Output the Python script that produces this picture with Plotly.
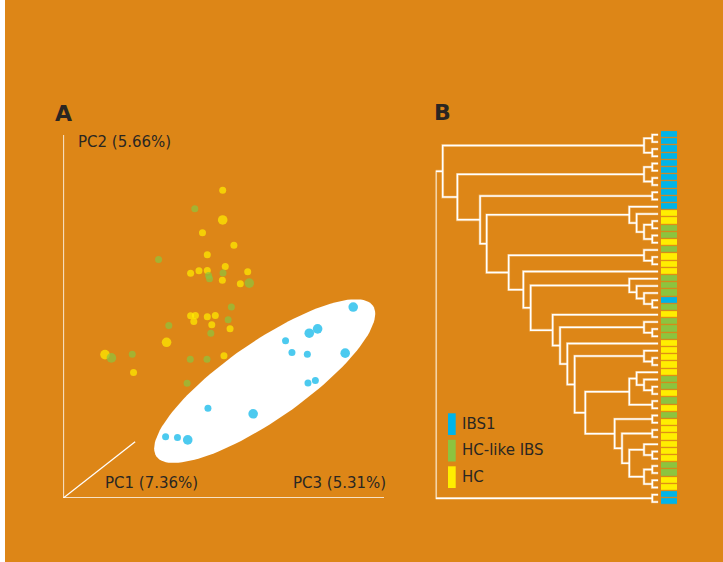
import math
import plotly.graph_objects as go

W, H = 723, 562

# ---------------- colours ----------------
BG = "#DD8617"
COL = {"IBS1": "#00B4E8", "HC-like IBS": "#8CC43F", "HC": "#FFEE00"}
TXT = "#2a2622"

# ---------------- Panel A: PCA scores (projected) ----------------
hc_x = [49.7, 49.7, 43.4, 53.2, 44.9, 50.5, 39.7, 42.3, 44.9, 57.5, 49.6, 55.2,
        39.7, 41.2, 40.7, 44.9, 47.4, 46.3, 52.0, 32.2, 13.0, 21.9, 50.1]
hc_y = [84.8, 76.6, 73.1, 69.6, 67.0, 63.8, 61.9, 62.6, 62.7, 62.3, 60.0, 59.0,
        50.2, 50.3, 48.6, 49.9, 50.3, 47.7, 46.6, 42.9, 39.5, 34.6, 39.2]
hc_near = [0, 1, 0, 0, 0, 0, 0, 0, 0, 0, 0, 0, 0, 0, 0, 0, 0, 0, 0, 1, 1, 0, 0]

hcl_x = [41.0, 29.7, 45.3, 45.6, 49.8, 58.0, 52.4, 51.4, 32.9, 46.0, 15.0, 21.5,
         39.6, 44.8, 38.6]
hcl_y = [79.7, 65.7, 61.3, 60.4, 62.0, 59.2, 52.6, 49.1, 47.5, 45.4, 38.6, 39.6,
         38.2, 38.2, 31.6]
hcl_near = [0, 0, 0, 0, 0, 1, 0, 0, 0, 0, 1, 0, 0, 0, 0]

ibs_x = [90.4, 76.7, 79.3, 69.3, 71.3, 76.1, 87.9, 76.3, 78.6, 45.1, 59.2, 31.9,
         35.6, 38.8]
ibs_y = [52.6, 45.4, 46.6, 43.3, 40.1, 39.6, 39.9, 31.7, 32.4, 24.7, 23.2, 16.9,
         16.7, 16.0]
ibs_near = [1, 1, 1, 0, 0, 0, 1, 0, 0, 0, 1, 0, 0, 1]

axis_labels = ["PC1 (7.36%)", "PC2 (5.66%)", "PC3 (5.31%)"]

# ---------------- Panel B: dendrogram ----------------
leaf_groups = (["IBS1"] * 11 +
               ["HC", "HC", "HC-like IBS", "HC-like IBS", "HC", "HC-like IBS", "HC",
                "HC", "HC", "HC-like IBS", "HC-like IBS", "HC-like IBS", "IBS1",
                "HC-like IBS", "HC", "HC-like IBS", "HC-like IBS", "HC-like IBS",
                "HC", "HC", "HC", "HC", "HC", "HC-like IBS", "HC-like IBS", "HC",
                "HC-like IBS", "HC", "HC-like IBS", "HC", "HC", "HC", "HC", "HC",
                "HC", "HC-like IBS", "HC-like IBS", "HC", "HC", "IBS1", "IBS1"])

# nested merges: (height, left, right); leaves are 1-based positions
cl_A = (0.143, (0.06, 1, 2), (0.06, 3, 4))
cl_B = (0.143, (0.06, 5, 6), (0.06, 7, 8))
cl_C = (0.06, 9, 10)
cl_D = (0.29, 11, (0.217, 12, (0.143, (0.06, 13, 14), (0.06, 15, 16))))
cl_E = (0.143, 17, (0.06, 18, 19))
cl_F = (0.29, 21, (0.217, 22, (0.143, 23, (0.06, 24, 25))))
cl_G = (0.143, 27, (0.06, 28, 29))
cl_H = (0.143, 31, (0.06, 32, 33))
cl_I = (0.29, (0.217, 34, (0.143, 35, (0.06, 36, 37))), (0.06, 38, 39))
cl_J = (0.437, (0.06, 40, 41),
        (0.363, (0.06, 42, 43),
         (0.29, (0.143, 44, (0.06, 45, 46)), (0.143, (0.06, 47, 48), (0.06, 49, 50)))))
cl_K = (0.73, cl_I, cl_J)
cl_L = (0.837, cl_H, cl_K)
cl_M = (0.91, 30, cl_L)
cl_N = (0.983, cl_G, cl_M)
cl_O = (1.057, 26, cl_N)
cl_P = (1.277, cl_F, cl_O)
cl_Q = (1.35, 20, cl_P)
cl_R = (1.497, cl_E, cl_Q)
cl_S = (1.717, cl_D, cl_R)
cl_T = (1.783, cl_C, cl_S)
cl_U = (2.01, cl_B, cl_T)
cl_V = (2.157, cl_A, cl_U)
tree = (2.227, cl_V, (0.06, 51, 52))

legend_items = ["IBS1", "HC-like IBS", "HC"]

# ---------------- build figure ----------------
fig = go.Figure()

# ellipse around IBS1 cluster (panel A data units)
sx, sy = 3.21, 3.63  # px per data unit
ecx, ecy = 62.8, 32.2
ea, eb, eang = 132.0, 39.0, math.radians(34.8)
ex, ey = [], []
for i in range(121):
    t = 2 * math.pi * i / 120
    dx = ea * math.cos(eang) * math.cos(t) - eb * math.sin(eang) * math.sin(t)
    dy = ea * math.sin(eang) * math.cos(t) + eb * math.cos(eang) * math.sin(t)
    ex.append(ecx + dx / sx)
    ey.append(ecy + dy / sy)
fig.add_trace(go.Scatter(x=ex, y=ey, mode="lines", fill="toself",
                         fillcolor="white", line=dict(width=0, color="white"),
                         hoverinfo="skip", showlegend=False, xaxis="x", yaxis="y"))

for gx, gy, gn, name in [(hc_x, hc_y, hc_near, "HC"),
                         (hcl_x, hcl_y, hcl_near, "HC-like IBS"),
                         (ibs_x, ibs_y, ibs_near, "IBS1")]:
    fig.add_trace(go.Scatter(
        x=gx, y=gy, mode="markers", name=name, showlegend=False,
        marker=dict(color=COL[name], size=[7 + 2.6 * n for n in gn],
                    line=dict(width=0)),
        cliponaxis=False, xaxis="x", yaxis="y"))

# dendrogram segments
seg_x, seg_y = [], []


def walk(node):
    if isinstance(node, int):
        return 0.0, float(node)
    h, l, r = node
    hl, yl = walk(l)
    hr, yr = walk(r)
    seg_x.extend([hl, h, h, hr, None])
    seg_y.extend([yl, yl, yr, yr, None])
    return h, (yl + yr) / 2


walk(tree)
fig.add_trace(go.Scatter(x=seg_x, y=seg_y, mode="lines",
                         line=dict(color="rgba(255,226,180,0.45)", width=2.8),
                         hoverinfo="skip", showlegend=False, xaxis="x2", yaxis="y2"))
fig.add_trace(go.Scatter(x=seg_x, y=seg_y, mode="lines",
                         line=dict(color="white", width=1.5),
                         hoverinfo="skip", showlegend=False, xaxis="x2", yaxis="y2"))

# colour strip
code = {"IBS1": 0, "HC-like IBS": 1, "HC": 2}
fig.add_trace(go.Heatmap(
    z=[[code[g]] for g in leaf_groups], x=[0], y=list(range(1, len(leaf_groups) + 1)),
    zmin=0, zmax=2, showscale=False, ygap=1.2, hoverinfo="skip",
    colorscale=[[0, COL["IBS1"]], [0.333, COL["IBS1"]], [0.334, COL["HC-like IBS"]],
                [0.666, COL["HC-like IBS"]], [0.667, COL["HC"]], [1, COL["HC"]]],
    xaxis="x3", yaxis="y2"))

shapes = [
    # white left edge
    dict(type="rect", xref="paper", yref="paper", x0=0, x1=5 / W, y0=0, y1=1,
         fillcolor="white", line=dict(width=0), layer="below"),
    # 3D axes for panel A
    dict(type="line", xref="x", yref="y", x0=0, y0=0, x1=0, y1=100,
         line=dict(color="white", width=1.6)),
    dict(type="line", xref="x", yref="y", x0=0, y0=0, x1=100, y1=0,
         line=dict(color="white", width=1.6)),
    dict(type="line", xref="x", yref="y", x0=0, y0=0, x1=22.4, y1=15.5,
         line=dict(color="white", width=1.3)),
]

annotations = [
    dict(text="<b>A</b>", x=53 / W, y=1 - 113.5 / H),
    dict(text="<b>B</b>", x=431.5 / W, y=1 - 112.5 / H),
]
for a in annotations:
    a.update(xref="paper", yref="paper", xanchor="left", yanchor="middle",
             showarrow=False, font=dict(family="DejaVu Sans", size=22, color=TXT))

lab_pos = {"PC1 (7.36%)": (103, 483), "PC2 (5.66%)": (76, 142), "PC3 (5.31%)": (290.5, 483)}
for lab in axis_labels:
    px, py = lab_pos[lab]
    annotations.append(dict(text=lab, x=px / W, y=1 - py / H, xref="paper", yref="paper",
                            xanchor="left", yanchor="middle", showarrow=False,
                            font=dict(family="DejaVu Sans", size=15, color=TXT)))

for i, name in enumerate(legend_items):
    top = 413.3 + i * 26.5
    shapes.append(dict(type="rect", xref="paper", yref="paper",
                       x0=448 / W, x1=455.7 / W, y0=1 - (top + 21.7) / H, y1=1 - top / H,
                       fillcolor=COL[name], line=dict(width=0)))
    annotations.append(dict(text=name, x=459.5 / W, y=1 - (top + 10.5) / H,
                            xref="paper", yref="paper", xanchor="left", yanchor="middle",
                            showarrow=False,
                            font=dict(family="DejaVu Sans", size=15, color=TXT)))

noax = dict(visible=False, showgrid=False, zeroline=False, fixedrange=True)
fig.update_layout(
    width=W, height=H, margin=dict(l=0, r=0, t=0, b=0),
    paper_bgcolor=BG, plot_bgcolor="rgba(0,0,0,0)", showlegend=False,
    xaxis=dict(domain=[63.3 / W, 384 / W], range=[0, 100], **noax),
    yaxis=dict(domain=[1 - 498 / H, 1 - 135 / H], range=[0, 100], **noax),
    xaxis2=dict(domain=[435.7 / W, 658.3 / W], range=[2.227, 0], anchor="y2", **noax),
    yaxis2=dict(domain=[1 - 505.5 / H, 1 - 131.1 / H], range=[52.5, 0.5], anchor="x2", **noax),
    xaxis3=dict(domain=[661 / W, 677 / W], range=[-0.5, 0.5], anchor="y2", **noax),
    shapes=shapes, annotations=annotations,
)

fig.write_html("out.html", config={"displayModeBar": False, "staticPlot": True},
               post_script="document.body.style.margin='0';document.body.style.padding='0';")
